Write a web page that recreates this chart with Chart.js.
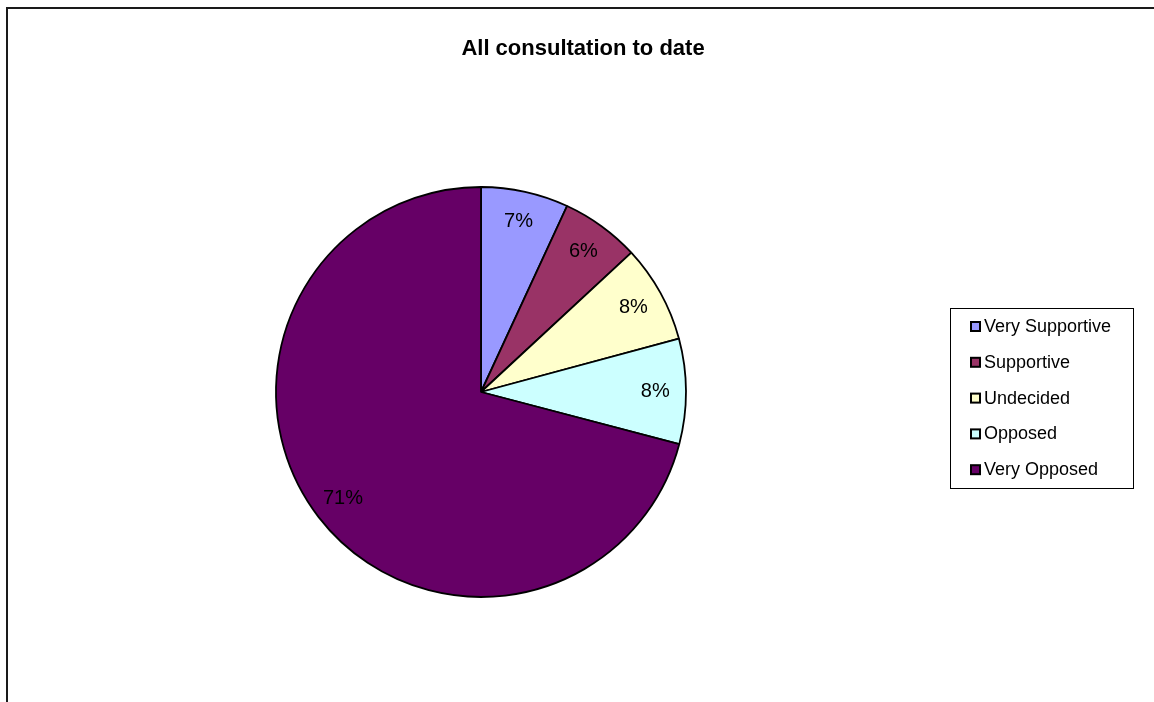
<!DOCTYPE html>
<html>
<head>
<meta charset="utf-8">
<title>All consultation to date</title>
<script src="https://cdn.jsdelivr.net/npm/chart.js@4.4.0/dist/chart.umd.min.js"></script>
<style>
    html, body { margin: 0; padding: 0; background: #ffffff; }
    #wrap { position: relative; width: 1154px; height: 702px; }
</style>
</head>
<body>
<div id="wrap"><canvas id="pieChart" width="1154" height="702"></canvas></div>
<script>
// Chart data
const chartTitle = 'All consultation to date';
const categories = ['Very Supportive', 'Supportive', 'Undecided', 'Opposed', 'Very Opposed'];
const responses = [6.9, 6.2, 7.7, 8.3, 70.9];
const sliceColors = ['#9999FF', '#993366', '#FFFFCC', '#CCFFFF', '#660066'];

const FONT = '"Liberation Sans", Arial, sans-serif';

function percentLabel(value) {
    const total = responses.reduce((a, b) => a + b, 0);
    return Math.round(value / total * 100) + '%';
}

// Frame, title, slice labels and the boxed legend
const decorations = {
    id: 'decorations',
    beforeDraw(chart) {
        const ctx = chart.ctx;
        ctx.save();
        ctx.fillStyle = '#ffffff';
        ctx.fillRect(0, 0, chart.width, chart.height);
        ctx.strokeStyle = '#1a1a1a';
        ctx.lineWidth = 2;
        ctx.beginPath();
        ctx.moveTo(7, chart.height);
        ctx.lineTo(7, 8);
        ctx.lineTo(chart.width, 8);
        ctx.stroke();
        ctx.restore();
    },
    afterDraw(chart) {
        const ctx = chart.ctx;
        ctx.save();

        // title
        ctx.fillStyle = '#000000';
        ctx.font = 'bold 22px ' + FONT;
        ctx.textAlign = 'center';
        ctx.textBaseline = 'middle';
        ctx.fillText(chartTitle, 583, 49);

        // percentage labels inside the slices
        const meta = chart.getDatasetMeta(0);
        ctx.font = '20px ' + FONT;
        meta.data.forEach((arc, i) => {
            const mid = (arc.startAngle + arc.endAngle) / 2;
            const r = arc.outerRadius * 0.85;
            const x = arc.x + Math.cos(mid) * r;
            const y = arc.y + Math.sin(mid) * r;
            ctx.fillText(percentLabel(responses[i]), x, y);
        });

        // legend
        const lx = 950, ly = 308, lw = 183, lh = 180;
        ctx.strokeStyle = '#000000';
        ctx.lineWidth = 1;
        ctx.strokeRect(lx + 0.5, ly + 0.5, lw, lh);
        ctx.font = '18px ' + FONT;
        ctx.textAlign = 'left';
        categories.forEach((cat, i) => {
            const cy = ly + 18 + i * 35.8;
            ctx.fillStyle = sliceColors[i];
            ctx.fillRect(971, cy - 4, 9, 9);
            ctx.strokeStyle = '#000000';
            ctx.lineWidth = 2;
            ctx.strokeRect(971, cy - 4, 9, 9);
            ctx.fillStyle = '#000000';
            ctx.fillText(cat, 984, cy + 1);
        });
        ctx.restore();
    }
};

new Chart(document.getElementById('pieChart').getContext('2d'), {
    type: 'pie',
    data: {
        labels: categories,
        datasets: [{
            data: responses,
            backgroundColor: sliceColors,
            borderColor: '#000000',
            borderWidth: 1.8
        }]
    },
    options: {
        responsive: false,
        animation: false,
        radius: 205,
        layout: { padding: { left: 271, right: 463, top: 182, bottom: 100 } },
        plugins: {
            legend: { display: false },
            title: { display: false },
            tooltip: { enabled: false }
        }
    },
    plugins: [decorations]
});
</script>
</body>
</html>
